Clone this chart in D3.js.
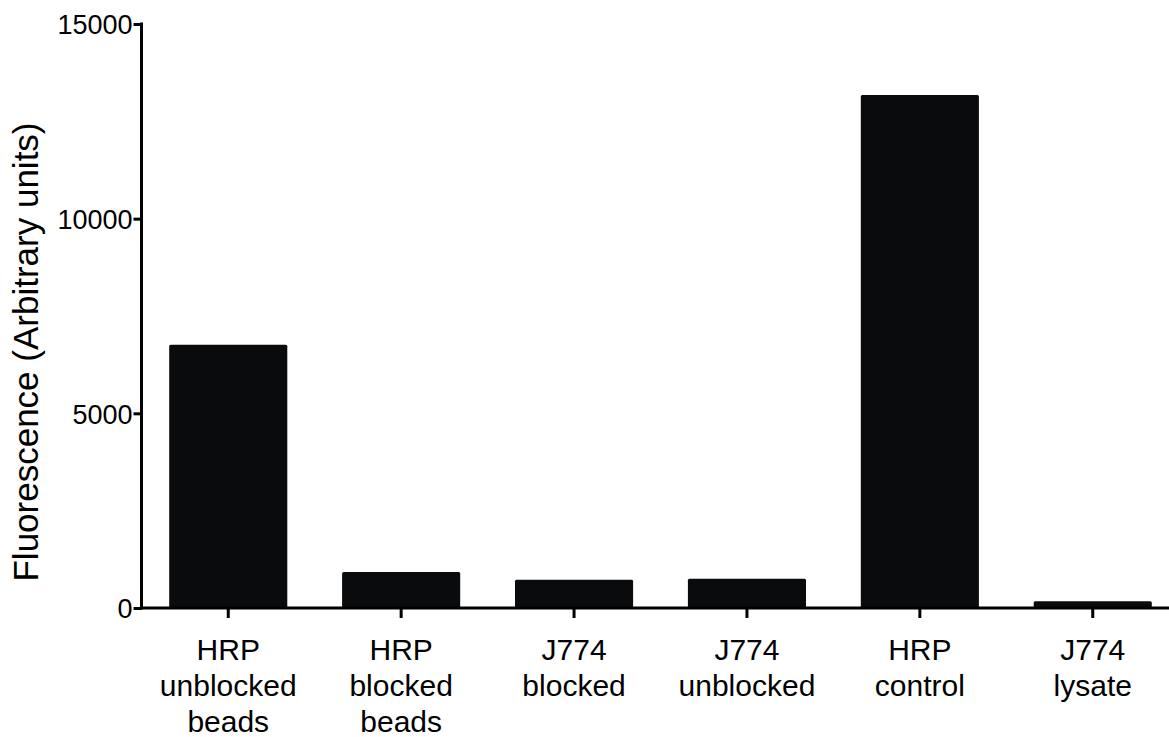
<!DOCTYPE html>
<html>
<head>
<meta charset="utf-8">
<script src="https://cdn.jsdelivr.net/npm/d3@7"></script>
<style>
  html, body { margin: 0; padding: 0; background: #fff; }
  svg { display: block; }
  text { font-family: "Liberation Sans", Arial, Helvetica, sans-serif; fill: #000; }
</style>
</head>
<body>
<svg id="chart" width="1169" height="737"></svg>
<script>
// Sample groups (each label is split over several lines)
const categories = [
  "HRP unblocked beads",
  "HRP blocked beads",
  "J774 blocked",
  "J774 unblocked",
  "HRP control",
  "J774 lysate"
];
const categoryLines = [
  ["HRP", "unblocked", "beads"],
  ["HRP", "blocked", "beads"],
  ["J774", "blocked"],
  ["J774", "unblocked"],
  ["HRP", "control"],
  ["J774", "lysate"]
];
// Fluorescence readings (arbitrary units)
const fluorescence = [6763, 925, 727, 753, 13176, 172];
const yTicks = [0, 5000, 10000, 15000];
const yTitle = "Fluorescence (Arbitrary units)";

const svg = d3.select("#chart");

const y = d3.scaleLinear().domain([0, 15000]).range([608, 24]);
const x = d3.scaleBand()
  .domain(categories)
  .range([141.8, 1179.2])
  .paddingInner(0.317)
  .paddingOuter(0.1585);

// Bars
svg.append("g").selectAll("rect")
  .data(categories)
  .join("rect")
  .attr("x", d => x(d))
  .attr("width", x.bandwidth())
  .attr("y", (d, i) => y(fluorescence[i]))
  .attr("height", (d, i) => y(0) - y(fluorescence[i]))
  .attr("rx", 1.5)
  .attr("fill", "#0a0b0d");

// Y axis
const yAxis = svg.append("g")
  .attr("transform", "translate(141.5,0)")
  .call(d3.axisLeft(y).tickValues(yTicks).tickFormat(d3.format("d")).tickSize(8).tickPadding(1));
yAxis.select(".domain").attr("d", `M0,${y(0) + 1.5}V${y(15000) - 1.5}`);
yAxis.selectAll("path, line").attr("stroke", "#000").attr("stroke-width", 3);
yAxis.selectAll("text").attr("font-size", 27).attr("fill", "#000")
  .attr("dy", "0.36em")
  .style("font-family", "'Liberation Sans', Arial, sans-serif");

// X axis
const xAxis = svg.append("g")
  .attr("transform", `translate(0,${y(0)})`)
  .call(d3.axisBottom(x).tickSize(10).tickFormat(""));
xAxis.select(".domain").attr("d", "M140,0H1169");
xAxis.selectAll("path, line").attr("stroke", "#000").attr("stroke-width", 3);

// Multi-line category labels
const labels = svg.append("g");
categories.forEach((c, i) => {
  const t = labels.append("text")
    .attr("x", x(c) + x.bandwidth() / 2)
    .attr("y", 660)
    .attr("text-anchor", "middle")
    .attr("font-size", 30);
  categoryLines[i].forEach((line, j) => {
    t.append("tspan")
      .attr("x", x(c) + x.bandwidth() / 2)
      .attr("dy", j === 0 ? 0 : 36)
      .text(line);
  });
});

// Y axis title
svg.append("text")
  .attr("transform", `translate(38,352) rotate(-90)`)
  .attr("text-anchor", "middle")
  .attr("font-size", 35)
  .text(yTitle);
</script>
</body>
</html>
